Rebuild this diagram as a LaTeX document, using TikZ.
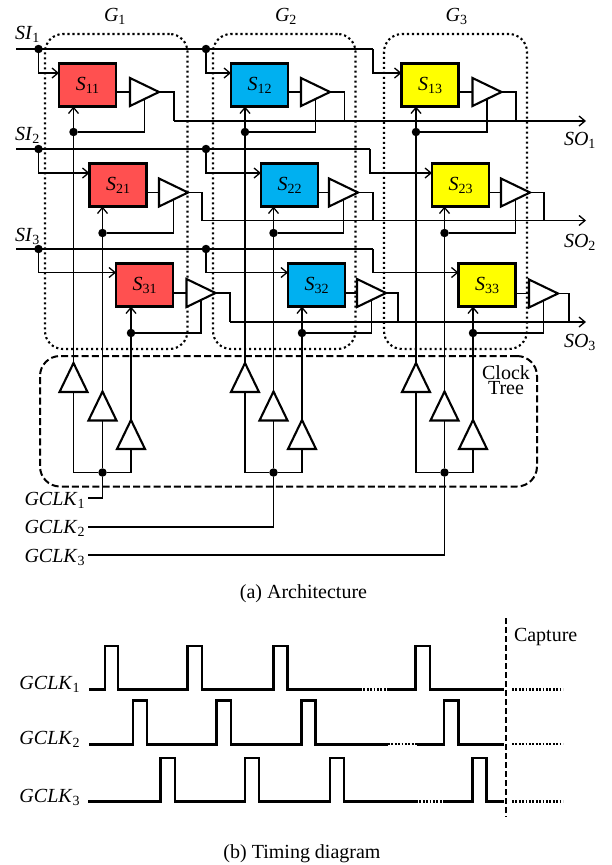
\documentclass[tikz,border=0pt]{standalone}
\usepackage{fontspec}
\setmainfont{Liberation Serif}
\usetikzlibrary{shapes.geometric,arrows.meta}
\newcommand{\lab}[2]{\textit{#1}{\fontsize{14}{14}\selectfont\raisebox{-3pt}{#2}}}
\tikzset{
 ff/.style={draw,line width=2.1pt,minimum width=57pt,minimum height=43pt,inner sep=0pt,outer sep=0pt},
 buf/.style={draw,fill=white,line width=2.1pt,shape=isosceles triangle,isosceles triangle stretches,minimum width=28pt,minimum height=29pt,inner sep=0pt,outer sep=0pt,anchor=apex},
 wire/.style={line width=1.8pt,line join=miter},
 arr/.style={-{Straight Barb[length=6pt,width=10pt,line width=1.3pt]}},
 dotn/.style={circle,fill=black,minimum size=8.5pt,inner sep=0pt,outer sep=0pt},
 grp/.style={draw,line width=2.1pt,dash pattern=on 2.2pt off 2.8pt,rounded corners=18pt,inner sep=0pt,outer sep=0pt},
 tree/.style={draw,line width=2pt,dash pattern=on 7pt off 3.2pt,rounded corners=20pt,inner sep=0pt,outer sep=0pt},
 tim/.style={line width=2.5pt,line join=miter},
 timd/.style={line width=2.2pt,dash pattern=on 1.8pt off 1.6pt},
 txt/.style={anchor=base west,inner sep=0pt,outer sep=0pt,font=\fontsize{20}{20}\selectfont},
 txtc/.style={anchor=base,inner sep=0pt,outer sep=0pt,font=\fontsize{20}{20}\selectfont},
}
\definecolor{fred}{HTML}{FF5050}
\definecolor{fblue}{HTML}{00B0F0}
\definecolor{fyel}{HTML}{FFFF00}
\begin{document}
\begin{tikzpicture}[x=1pt,y=-1pt]
\useasboundingbox (0,0) rectangle (612,865);
% groups
\node[grp,minimum width=142.5pt,minimum height=315pt] (Gb1) at (116.25,191.5) {};
\node[grp,minimum width=142.5pt,minimum height=315pt] (Gb2) at (284.25,191.5) {};
\node[grp,minimum width=143pt,minimum height=315pt] (Gb3) at (455.5,191.5) {};
\node[tree,minimum width=497pt,minimum height=130.5pt] (Tb) at (288.5,421.25) {};
% flip-flops
\foreach \n/\x/\y/\c in {11/87.5/85/fred,21/118/185/fred,31/144.5/285/fred,
 12/259.5/85/fblue,22/289.5/185/fblue,32/316.5/285/fblue,
 13/430/85/fyel,23/460.5/185/fyel,33/487/285/fyel}{
 \node[ff,fill=\c,font=\fontsize{20}{20}\selectfont] (S\n) at (\x,\y) {\raisebox{-1.5pt}{\lab{S}{\n}}};
}
% output buffers
\foreach \n/\x/\y in {11/159/92,21/188/192.5,31/215.5/293,12/330/92,22/358/192.5,32/386/293,13/501.5/92,23/530/192.5,33/558/293.5}{
 \node[buf] (B\n) at (\x,\y) {};
}
% clock buffers
\foreach \n/\x/\y in {11/73.5/363,21/102.5/391.5,31/131/420,12/245/363,22/273.5/391.5,32/302/420,13/416/363,23/444.5/391.5,33/473/420}{
 \node[buf,rotate=90] (T\n) at (\x,\y) {};
}
% feedback dots
\foreach \n/\x/\y in {11/73.5/132,21/102.5/233,31/131/333,12/245/132,22/273.5/233,32/302/333,13/416/132,23/444.5/233,33/473/333}{
 \node[dotn] (d\n) at (\x,\y) {};
 \draw[wire,arr] (T\n.apex) -- (T\n.apex |- S\n.south);
 \draw[wire] (d\n) -| (B\n.right side);
 \draw[wire] (S\n.east |- B\n.apex) -- (B\n.lower side);
}
% scan outputs
\foreach \n/\x/\y in {11/174/121,21/202/220.5,31/230/322,12/344.5/121,22/373/220.5,32/398/322,13/516/121,23/544/220.5,33/569/322}{
 \coordinate (j\n) at (\x,\y);
 \draw[wire] (B\n.apex) -| (j\n);
}
\coordinate (so1) at (586,121);
\coordinate (so2) at (586,220.5);
\coordinate (so3) at (586,322);
\draw[wire,arr] (j11) -- (so1);
\draw[wire,arr] (j21) -- (so2);
\draw[wire,arr] (j31) -- (so3);
% scan inputs
\coordinate (si1) at (16,49);
\coordinate (si2) at (16,149);
\coordinate (si3) at (16,249);
\foreach \r/\y/\x in {1/49/373,2/149/370,3/249/373}{
 \node[dotn] (e\r1) at (38.5,\y) {};
 \node[dotn] (e\r2) at (206,\y) {};
 \coordinate (k\r) at (\x,\y);
 \draw[wire,line width=2pt] (si\r) -- (k\r);
}
\draw[wire,arr] (e11) |- (S11.west |- 0,73);
\draw[wire,arr] (e12) |- (S12.west |- 0,73);
\draw[wire,arr] (k1) |- (S13.west |- 0,73);
\draw[wire,arr] (e21) |- (S21.west |- 0,173);
\draw[wire,arr] (e22) |- (S22.west |- 0,173);
\draw[wire,arr] (k2) |- (S23.west |- 0,173);
\draw[wire,arr] (e31) |- (S31.west |- 0,272.5);
\draw[wire,arr] (e32) |- (S32.west |- 0,272.5);
\draw[wire,arr] (k3) |- (S33.west |- 0,272.5);
% clock tree bus
\node[dotn] (b1) at (102.5,472.5) {};
\node[dotn] (b2) at (273.5,472.5) {};
\node[dotn] (b3) at (444.5,472.5) {};
\foreach \g in {1,2,3}{
 \draw[wire] (T1\g.lower side) |- (b\g);
 \draw[wire] (T3\g.lower side) |- (b\g);
 \draw[wire] (T2\g.lower side) -- (b\g);
}
\coordinate (g1) at (88,498);
\coordinate (g2) at (88,527);
\coordinate (g3) at (88,555);
\draw[wire] (b1) |- (g1);
\draw[wire] (b2) |- (g2);
\draw[wire] (b3) |- (g3);
% labels
\node[txt] (lG1) at (104,21) {\lab{G}{1}};
\node[txt] (lG2) at (275,21) {\lab{G}{2}};
\node[txt] (lG3) at (445.7,21) {\lab{G}{3}};
\node[txt] (lSI1) at (15,39) {\lab{SI}{1}};
\node[txt] (lSI2) at (15,140) {\lab{SI}{2}};
\node[txt] (lSI3) at (15,241) {\lab{SI}{3}};
\node[txt] (lSO1) at (564,145) {\lab{SO}{1}};
\node[txt] (lSO2) at (564,247) {\lab{SO}{2}};
\node[txt] (lSO3) at (564,347) {\lab{SO}{3}};
\node[txt] (lg1) at (24.5,505) {\lab{GCLK}{1}};
\node[txt] (lg2) at (24.5,533) {\lab{GCLK}{2}};
\node[txt] (lg3) at (24.5,562) {\lab{GCLK}{3}};
\node[inner sep=0pt,outer sep=0pt,align=center,font=\fontsize{20}{16}\selectfont] (lck) at (506,380.5) {Clock\\[-1pt]Tree};
\node[txtc] (capa) at (303.5,598) {(a) Architecture};
% timing
\node[txt] (lt1) at (19.5,689) {\lab{GCLK}{1}};
\node[txt] (lt2) at (19.5,744) {\lab{GCLK}{2}};
\node[txt] (lt3) at (19.5,802) {\lab{GCLK}{3}};
\node[txt] (lcap) at (514,641) {Capture};
\node[txtc] (capb) at (302,858) {(b) Timing diagram};
\def\hA{646}\def\lA{689.5}
\draw[tim] (89,\lA) -- (105,\lA) -- (105,\hA) -- (118,\hA) -- (118,\lA) -- (187.5,\lA) -- (187.5,\hA) -- (202,\hA) -- (202,\lA) -- (273.5,\lA) -- (273.5,\hA) -- (287.5,\hA) -- (287.5,\lA) -- (360,\lA);
\draw[timd] (360,\lA) -- (387,\lA);
\draw[tim] (387,\lA) -- (415.7,\lA) -- (415.7,\hA) -- (430,\hA) -- (430,\lA) -- (504,\lA);
\draw[timd] (512,\lA) -- (563,\lA);
\def\hB{700.7}\def\lB{744.3}
\draw[tim] (89,\lB) -- (133,\lB) -- (133,\hB) -- (147,\hB) -- (147,\lB) -- (216.5,\lB) -- (216.5,\hB) -- (231,\hB) -- (231,\lB) -- (301.5,\lB) -- (301.5,\hB) -- (315.7,\hB) -- (315.7,\lB) -- (388,\lB);
\draw[timd] (388,\lB) -- (417,\lB);
\draw[tim] (417,\lB) -- (444,\lB) -- (444,\hB) -- (458.5,\hB) -- (458.5,\lB) -- (504,\lB);
\draw[timd] (512,\lB) -- (563,\lB);
\def\hC{758}\def\lC{801.5}
\draw[tim] (88,\lC) -- (160.5,\lC) -- (160.5,\hC) -- (175,\hC) -- (175,\lC) -- (245,\lC) -- (245,\hC) -- (259,\hC) -- (259,\lC) -- (330,\lC) -- (330,\hC) -- (344,\hC) -- (344,\lC) -- (416,\lC);
\draw[timd] (416,\lC) -- (444,\lC);
\draw[tim] (444,\lC) -- (472.5,\lC) -- (472.5,\hC) -- (486.7,\hC) -- (486.7,\lC) -- (504,\lC);
\draw[timd] (512,\lC) -- (563,\lC);
\draw[line width=2pt,dash pattern=on 6pt off 3pt] (506,618) -- (506,817);
\end{tikzpicture}
\end{document}
